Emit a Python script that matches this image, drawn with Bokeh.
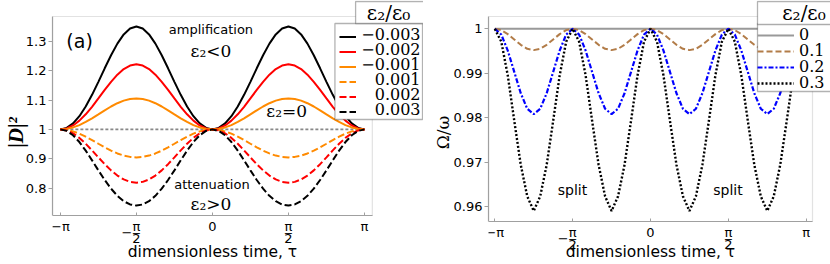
import numpy as np
from bokeh.plotting import figure
from bokeh.models import Range1d, FixedTicker, Label, Legend, LegendItem, BoxAnnotation
from bokeh.layouts import row
from bokeh.embed import file_html
from bokeh.resources import INLINE

# ---------------- data ----------------
tau = np.linspace(-np.pi, np.pi, 49)
x_ticks = [-np.pi, -np.pi / 2, 0.0, np.pi / 2, np.pi]
x_tick_labels = ["\u2212\u03c0", "\u03c0\n\u2212\u2012\u2007\u2009\n2", "0", "\u03c0\n\u2012\n2", "\u03c0"]
legend_title = "\u03b5\u2082/\u03b5\u2080"

# panel (a): |D|^2 for eps2/eps0
a_labels = ["\u22120.003", "\u22120.002", "\u22120.001", "0.001", "0.002", "0.003"]
a_m003 = [1.0000, 1.0051, 1.0203, 1.0449, 1.0779, 1.1176, 1.1618, 1.2078, 1.2523, 1.2918, 1.3230, 1.3430, 1.3499,
          1.3430, 1.3230, 1.2918, 1.2523, 1.2078, 1.1618, 1.1176, 1.0779, 1.0449, 1.0203, 1.0051, 1.0000,
          1.0051, 1.0203, 1.0449, 1.0779, 1.1176, 1.1618, 1.2078, 1.2523, 1.2918, 1.3230, 1.3430, 1.3499,
          1.3430, 1.3230, 1.2918, 1.2523, 1.2078, 1.1618, 1.1176, 1.0779, 1.0449, 1.0203, 1.0051, 1.0000]
a_m002 = [1.0000, 1.0034, 1.0135, 1.0297, 1.0513, 1.0769, 1.1052, 1.1342, 1.1618, 1.1861, 1.2051, 1.2173, 1.2214,
          1.2173, 1.2051, 1.1861, 1.1618, 1.1342, 1.1052, 1.0769, 1.0513, 1.0297, 1.0135, 1.0034, 1.0000,
          1.0034, 1.0135, 1.0297, 1.0513, 1.0769, 1.1052, 1.1342, 1.1618, 1.1861, 1.2051, 1.2173, 1.2214,
          1.2173, 1.2051, 1.1861, 1.1618, 1.1342, 1.1052, 1.0769, 1.0513, 1.0297, 1.0135, 1.0034, 1.0000]
a_m001 = [1.0000, 1.0017, 1.0067, 1.0147, 1.0253, 1.0377, 1.0513, 1.0650, 1.0779, 1.0891, 1.0978, 1.1032, 1.1052,
          1.1032, 1.0978, 1.0891, 1.0779, 1.0650, 1.0513, 1.0377, 1.0253, 1.0147, 1.0067, 1.0017, 1.0000,
          1.0017, 1.0067, 1.0147, 1.0253, 1.0377, 1.0513, 1.0650, 1.0779, 1.0891, 1.0978, 1.1032, 1.1052,
          1.1032, 1.0978, 1.0891, 1.0779, 1.0650, 1.0513, 1.0377, 1.0253, 1.0147, 1.0067, 1.0017, 1.0000]
a_p001 = [1.0000, 0.9983, 0.9933, 0.9855, 0.9753, 0.9636, 0.9512, 0.9390, 0.9277, 0.9182, 0.9109, 0.9065, 0.9048,
          0.9065, 0.9109, 0.9182, 0.9277, 0.9390, 0.9512, 0.9636, 0.9753, 0.9855, 0.9933, 0.9983, 1.0000,
          0.9983, 0.9933, 0.9855, 0.9753, 0.9636, 0.9512, 0.9390, 0.9277, 0.9182, 0.9109, 0.9065, 0.9048,
          0.9065, 0.9109, 0.9182, 0.9277, 0.9390, 0.9512, 0.9636, 0.9753, 0.9855, 0.9933, 0.9983, 1.0000]
a_p002 = [1.0000, 0.9966, 0.9867, 0.9711, 0.9512, 0.9286, 0.9048, 0.8817, 0.8607, 0.8431, 0.8298, 0.8215, 0.8187,
          0.8215, 0.8298, 0.8431, 0.8607, 0.8817, 0.9048, 0.9286, 0.9512, 0.9711, 0.9867, 0.9966, 1.0000,
          0.9966, 0.9867, 0.9711, 0.9512, 0.9286, 0.9048, 0.8817, 0.8607, 0.8431, 0.8298, 0.8215, 0.8187,
          0.8215, 0.8298, 0.8431, 0.8607, 0.8817, 0.9048, 0.9286, 0.9512, 0.9711, 0.9867, 0.9966, 1.0000]
a_p003 = [1.0000, 0.9949, 0.9801, 0.9570, 0.9277, 0.8948, 0.8607, 0.8279, 0.7985, 0.7741, 0.7558, 0.7446, 0.7408,
          0.7446, 0.7558, 0.7741, 0.7985, 0.8279, 0.8607, 0.8948, 0.9277, 0.9570, 0.9801, 0.9949, 1.0000,
          0.9949, 0.9801, 0.9570, 0.9277, 0.8948, 0.8607, 0.8279, 0.7985, 0.7741, 0.7558, 0.7446, 0.7408,
          0.7446, 0.7558, 0.7741, 0.7985, 0.8279, 0.8607, 0.8948, 0.9277, 0.9570, 0.9801, 0.9949, 1.0000]
zero_tau = [-np.pi, np.pi]
a_zero = [1.0, 1.0]
a_yticks = [0.8, 0.9, 1.0, 1.1, 1.2, 1.3]

# panel (b): Omega/omega for eps2/eps0
b_labels = ["0", "0.1", "0.2", "0.3"]
b_00 = [1.0, 1.0]
b_01 = [1.0000, 0.9997, 0.9988, 0.9976, 0.9964, 0.9955, 0.9952, 0.9955, 0.9964, 0.9976, 0.9988, 0.9997,
        1.0000, 0.9997, 0.9988, 0.9976, 0.9964, 0.9955, 0.9952, 0.9955, 0.9964, 0.9976, 0.9988, 0.9997,
        1.0000, 0.9997, 0.9988, 0.9976, 0.9964, 0.9955, 0.9952, 0.9955, 0.9964, 0.9976, 0.9988, 0.9997,
        1.0000, 0.9997, 0.9988, 0.9976, 0.9964, 0.9955, 0.9952, 0.9955, 0.9964, 0.9976, 0.9988, 0.9997, 1.0000]
b_02 = [1.0000, 0.9987, 0.9951, 0.9903, 0.9855, 0.9820, 0.9808, 0.9820, 0.9855, 0.9903, 0.9951, 0.9987,
        1.0000, 0.9987, 0.9951, 0.9903, 0.9855, 0.9820, 0.9808, 0.9820, 0.9855, 0.9903, 0.9951, 0.9987,
        1.0000, 0.9987, 0.9951, 0.9903, 0.9855, 0.9820, 0.9808, 0.9820, 0.9855, 0.9903, 0.9951, 0.9987,
        1.0000, 0.9987, 0.9951, 0.9903, 0.9855, 0.9820, 0.9808, 0.9820, 0.9855, 0.9903, 0.9951, 0.9987, 1.0000]
b_03 = [1.0000, 0.9971, 0.9895, 0.9793, 0.9694, 0.9623, 0.9590, 0.9623, 0.9694, 0.9793, 0.9895, 0.9971,
        1.0000, 0.9971, 0.9895, 0.9793, 0.9694, 0.9623, 0.9590, 0.9623, 0.9694, 0.9793, 0.9895, 0.9971,
        1.0000, 0.9971, 0.9895, 0.9793, 0.9694, 0.9623, 0.9590, 0.9623, 0.9694, 0.9793, 0.9895, 0.9971,
        1.0000, 0.9971, 0.9895, 0.9793, 0.9694, 0.9623, 0.9590, 0.9623, 0.9694, 0.9793, 0.9895, 0.9971, 1.0000]
b_yticks = [0.96, 0.97, 0.98, 0.99, 1.0]

# ---------------- styling ----------------
SANS = "DejaVu Sans"
SERIF = "DejaVu Serif"
GRAY = "#a0a0a0"
ORANGE = "#ff8a00"
BROWN = "#b27c48"
H = 264


class Panel:
    """frame: page-pixel box of the bokeh frame; xcal/ycal: two (pixel, value) anchors read off the
    reference ticks; vis_*: page-pixel edges of the drawn plot box"""

    def __init__(self, width, page_x0, frame, xcal, ycal, vis_left, vis_right, vis_top, vis_bottom, yticks):
        self.frame = frame
        (px1, v1), (px2, v2) = xcal
        (py1, w1), (py2, w2) = ycal
        self.x_of = lambda px: v1 + (px - px1) * (v2 - v1) / (px2 - px1)
        self.y_of = lambda py: w1 + (py - py1) * (w2 - w1) / (py2 - py1)
        xr = (self.x_of(frame["left"]), self.x_of(frame["right"]))
        yr = (self.y_of(frame["bottom"]), self.y_of(frame["top"]))
        p = figure(width=width, height=H, title=None,
                   x_range=Range1d(*xr), y_range=Range1d(*yr),
                   min_border_left=frame["left"] - page_x0,
                   min_border_right=page_x0 + width - frame["right"],
                   min_border_top=frame["top"], min_border_bottom=H - frame["bottom"],
                   toolbar_location=None, output_backend="svg")
        p.grid.visible = False
        p.outline_line_color = None
        x0, x1 = self.x_of(vis_left), self.x_of(vis_right)
        y0, y1 = self.y_of(vis_bottom), self.y_of(vis_top)
        p.add_layout(BoxAnnotation(left=x0, right=x1, bottom=y0, top=y1,
                                   fill_alpha=0, fill_color=None, line_color=GRAY, line_width=1.2,
                                   level="underlay"))
        for ax in (p.xaxis[0], p.yaxis[0]):
            ax.axis_line_color = GRAY
            ax.axis_line_width = 1.2
            ax.major_tick_line_color = GRAY
            ax.minor_tick_line_color = None
            ax.major_label_text_font = SANS
            ax.major_label_text_font_size = "13px"
            ax.major_label_text_color = "black"
            ax.axis_label_text_font_style = "normal"
            ax.axis_label_text_color = "black"
        p.xaxis.fixed_location = y0
        p.xaxis.bounds = (x0, x1)
        p.yaxis.bounds = (y0, y1)
        p.xaxis.major_tick_in = 3
        p.xaxis.major_tick_out = 0
        p.yaxis.major_tick_in = 0
        p.yaxis.major_tick_out = 4
        p.xaxis.major_label_standoff = 3
        p.yaxis.major_label_standoff = 2
        p.xaxis.ticker = FixedTicker(ticks=x_ticks)
        p.xaxis.major_label_overrides = dict(zip(x_ticks, x_tick_labels))
        p.xaxis.major_label_text_line_height = 0.42
        p.yaxis.ticker = FixedTicker(ticks=yticks)
        p.yaxis.major_label_overrides = {1.0: "1"}
        p.xaxis.axis_label = "dimensionless time, \u03c4"
        p.xaxis.axis_label_text_font = SANS
        p.xaxis.axis_label_text_font_size = "15.5px"
        self.p = p

    def text(self, px, py, txt, font=SANS, size="13px", style="normal", align="center", level="annotation"):
        self.p.add_layout(Label(x=self.x_of(px), y=self.y_of(py), text=txt, text_font=font,
                                text_font_size=size, text_font_style=style, text_align=align,
                                text_baseline="middle", text_color="black", level=level))

    def box(self, left, right, top, bottom):
        self.p.add_layout(BoxAnnotation(left=self.x_of(left), right=self.x_of(right),
                                        top=self.y_of(top), bottom=self.y_of(bottom),
                                        fill_color="white", fill_alpha=1.0,
                                        line_color="black", line_width=1.3, level="annotation"))

    def legend(self, renderers, labels, left, right, top, glyph_w, standoff, pad, row_h,
               text_x, text_align):
        f = self.frame
        n = len(renderers)
        bottom = top + 2 * pad + n * row_h
        # white, black-bordered box behind; legend itself only draws the line samples
        self.box(left, right, top, bottom)
        rows = [top + pad + row_h * (i + 0.5) for i in range(n)]
        for lab, yc in zip(labels, rows):
            self.text(text_x, yc, lab, font=SERIF, size="16px", align=text_align, level="annotation")
        lg = Legend(items=[LegendItem(label=" ", renderers=[r]) for r in renderers],
                    location=(left - f["left"], f["bottom"] - bottom),
                    orientation="vertical", glyph_width=glyph_w, glyph_height=row_h,
                    label_height=row_h, label_width=10, label_standoff=standoff,
                    padding=pad, spacing=0, margin=0,
                    label_text_font=SERIF, label_text_font_size="9px",
                    border_line_color=None, background_fill_alpha=0.0)
        self.p.add_layout(lg)


# ---------------- panel (a) ----------------
A = Panel(423, 0, dict(left=46, right=423, top=0, bottom=264),
          ((54, -np.pi), (363, np.pi)), ((40.7, 1.3), (187.7, 0.8)), 46, 371, 16, 215, a_yticks)
pa = A.p
pa.yaxis.axis_label = "|D|\u00b2"
pa.yaxis.axis_label_text_font = "Liberation Serif"
pa.yaxis.axis_label_text_font_style = "bold italic"
pa.yaxis.axis_label_text_font_size = "21px"
pa.yaxis.axis_label_standoff = -5
pa.xaxis.axis_label_standoff = -6

pa.line(zero_tau, a_zero, line_color="#888888", line_width=1.6, line_dash="3 2")
styles_a = [("black", "solid", a_m003), ("red", "solid", a_m002), (ORANGE, "solid", a_m001),
            (ORANGE, "7 3", a_p001), ("red", "7 3", a_p002), ("black", "7 3", a_p003)]
rend_a = [pa.line(tau, ys, line_color=c, line_width=2, line_dash=d) for c, d, ys in styles_a]

A.text(73.5, 40, "(a)", size="19px")
A.text(207, 29, "amplification", size="13px")
A.text(207, 50, "\u03b5\u2082<0", font=SERIF, size="17px")
A.text(284, 110, "\u03b5\u2082=0", font=SERIF, size="17px")
A.text(208, 184, "attenuation", size="13px")
A.text(207, 203, "\u03b5\u2082>0", font=SERIF, size="17px")

A.legend(rend_a, a_labels, left=333, right=422, top=23, glyph_w=17, standoff=6, pad=3, row_h=15,
         text_x=420, text_align="right")
A.box(354, 424, 1, 23)
A.text(387.5, 12, legend_title, font=SERIF, size="20px")

# ---------------- panel (b) ----------------
B = Panel(407, 423, dict(left=488, right=830, top=0, bottom=264),
          ((494.3, -np.pi), (805.7, np.pi)), ((28.3, 1.0), (206.0, 0.96)), 488, 812, 16, 221, b_yticks)
pb = B.p
pb.yaxis.axis_label = "\u03a9/\u03c9"
pb.yaxis.axis_label_text_font = SERIF
pb.yaxis.axis_label_text_font_size = "17px"
pb.yaxis.axis_label_standoff = -2
pb.xaxis.axis_label_standoff = -12

r0 = pb.line(zero_tau, b_00, line_color="#999999", line_width=2)
r1 = pb.line(tau, b_01, line_color=BROWN, line_width=2, line_dash="6 3")
r2 = pb.line(tau, b_02, line_color="#0000ff", line_width=2.2, line_dash="5 2 2 2")
r3 = pb.line(tau, b_03, line_color="black", line_width=2.4, line_dash="2 2")

B.text(455.5, 40, "(b)", size="19px")
B.text(572, 189, "split", size="14px")
B.text(727.5, 189, "split", size="14px")

B.legend([r0, r1, r2, r3], b_labels, left=757, right=850, top=23, glyph_w=37, standoff=2, pad=2,
         row_h=16, text_x=798.5, text_align="left")
B.box(757, 850, 1, 24)
B.text(803.5, 12.5, legend_title, font=SERIF, size="20px")

layout = row(pa, pb, spacing=0)
open("out.html", "w").write(file_html(layout, INLINE))
